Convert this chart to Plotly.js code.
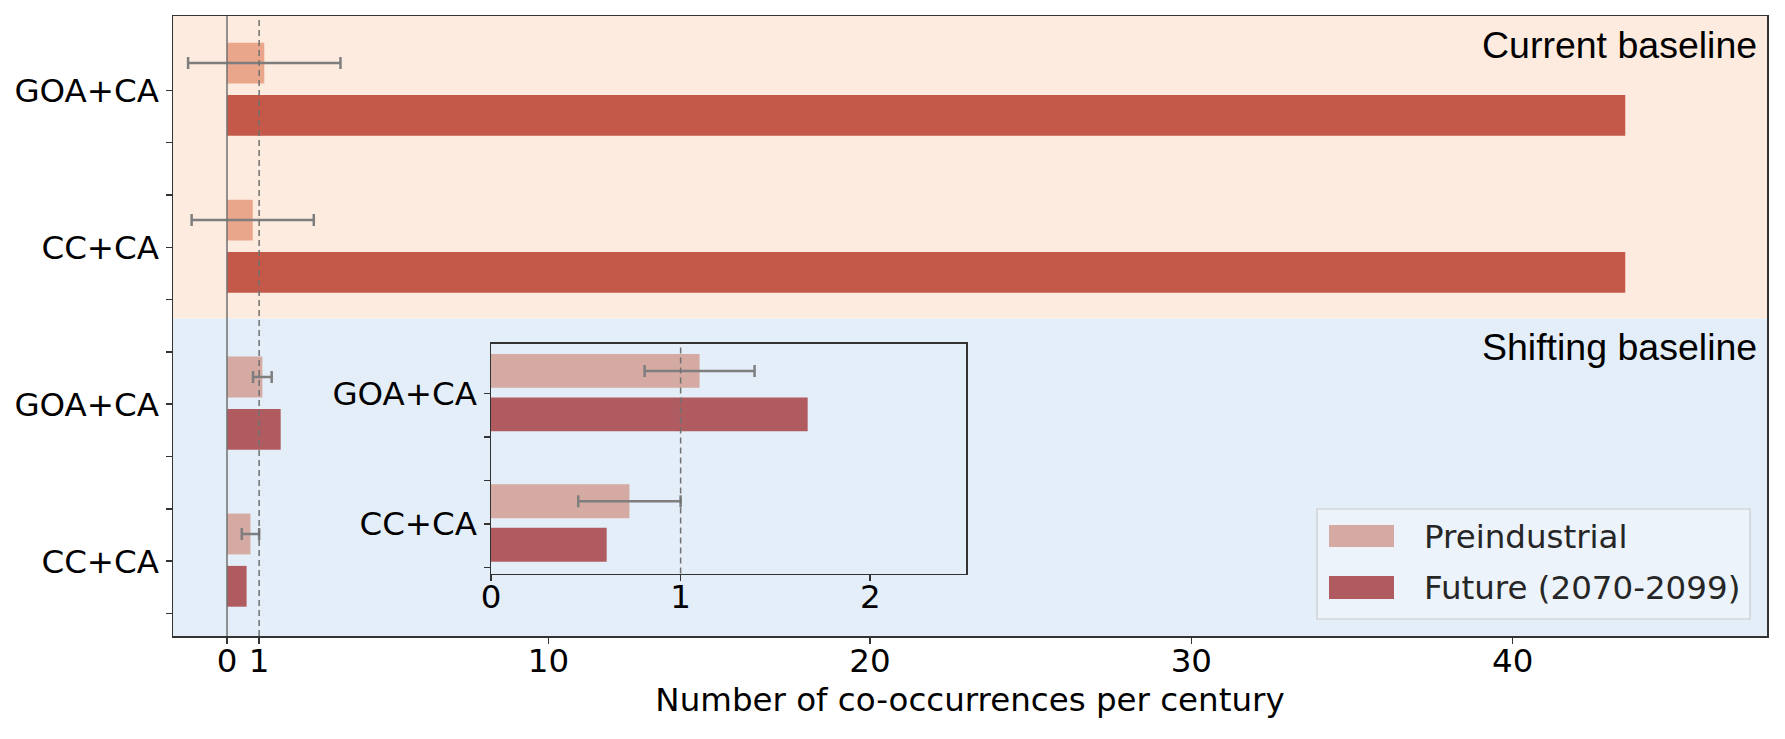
<!DOCTYPE html>
<html>
<head>
<meta charset="utf-8">
<script src="https://cdn.plot.ly/plotly-3.0.1.min.js"></script>
<style>html,body{margin:0;padding:0;background:#fff;}#chart{width:1785px;height:739px;}</style>
</head>
<body>
<div id="chart"></div>
<script>
// ---- data ----
const categories = ['GOA+CA', 'CC+CA'];
const seriesNames = ['Preindustrial', 'Future (2070-2099)'];
const panelLabels = ['Current baseline', 'Shifting baseline'];
const currentPre = [1.16, 0.80];
const currentPreErr = [2.37, 1.90];
const currentFuture = [43.5, 43.5];
const shiftingPre = [1.10, 0.73];
const shiftingPreErr = [0.29, 0.27];
const shiftingFuture = [1.67, 0.61];
const xTickVals = [0, 1, 10, 20, 30, 40];
const insetTickVals = [0, 1, 2];
const refLines = [0, 1];

// ---- styling ----
const W = 1785, H = 739;
const M = {l: 173, r: 18, t: 16, b: 103};
const PW = W - M.l - M.r, PH = H - M.t - M.b;
const px = x => (x - M.l) / PW;
const py = y => (H - M.b - y) / PH;

const C = {
  curPre: '#E9A68A', curFut: '#C4594A',
  shPre: '#D4AAA2', shFut: '#B05B60',
  peach: '#FDEBDF', blue: '#E4EEF8',
  err: '#7E7E7E', spine: '#333333'
};
const DV = 'DejaVu Sans, sans-serif';
const FS = 32.5;

// slot positions: each category has a tick; bars sit half a slot above/below
const nCat = categories.length;
const pos = (g, i) => (g === 0 ? 0 : 3 * nCat) + 3 * i;
const OFF_PRE = -0.52, OFF_FUT = 0.48, BW = 0.78;

const tickVals = [], tickText = [];
for (let k = 0; k <= 3 * nCat * 2 - 2; k++) { tickVals.push(k); tickText.push(''); }
for (let g = 0; g < 2; g++) for (let i = 0; i < nCat; i++) tickText[pos(g, i)] = categories[i];

const errStyle = (arr) => ({type: 'data', array: arr, visible: true, color: C.err, thickness: 2.5, width: 6});

const traces = [
  {type: 'bar', orientation: 'h', name: seriesNames[0], x: currentPre, y: categories.map((c, i) => pos(0, i) + OFF_PRE),
   width: BW, marker: {color: C.curPre, line: {width: 0}}, error_x: errStyle(currentPreErr), showlegend: false, xaxis: 'x', yaxis: 'y'},
  {type: 'bar', orientation: 'h', name: seriesNames[1], x: currentFuture, y: categories.map((c, i) => pos(0, i) + OFF_FUT),
   width: BW, marker: {color: C.curFut, line: {width: 0}}, showlegend: false, xaxis: 'x', yaxis: 'y'},
  {type: 'bar', orientation: 'h', name: seriesNames[0], x: shiftingPre, y: categories.map((c, i) => pos(1, i) + OFF_PRE),
   width: BW, marker: {color: C.shPre, line: {width: 0}}, error_x: errStyle(shiftingPreErr), showlegend: false, xaxis: 'x', yaxis: 'y'},
  {type: 'bar', orientation: 'h', name: seriesNames[1], x: shiftingFuture, y: categories.map((c, i) => pos(1, i) + OFF_FUT),
   width: BW, marker: {color: C.shFut, line: {width: 0}}, showlegend: false, xaxis: 'x', yaxis: 'y'},
  // inset
  {type: 'bar', orientation: 'h', name: seriesNames[0], x: shiftingPre, y: categories.map((c, i) => 3 * i + OFF_PRE),
   width: BW, marker: {color: C.shPre, line: {width: 0}}, error_x: errStyle(shiftingPreErr), showlegend: false, xaxis: 'x2', yaxis: 'y2'},
  {type: 'bar', orientation: 'h', name: seriesNames[1], x: shiftingFuture, y: categories.map((c, i) => 3 * i + OFF_FUT),
   width: BW, marker: {color: C.shFut, line: {width: 0}}, showlegend: false, xaxis: 'x2', yaxis: 'y2'}
];

const insetTickVals2 = [], insetTickText2 = [];
for (let k = 0; k <= 3 * nCat - 2; k++) { insetTickVals2.push(k); insetTickText2.push(''); }
for (let i = 0; i < nCat; i++) insetTickText2[3 * i] = categories[i];

const boundary = py(318.5);
const shapes = [
  {type: 'rect', xref: 'paper', yref: 'paper', x0: 0, x1: 1, y0: boundary, y1: 1, fillcolor: C.peach, line: {width: 0}, layer: 'below'},
  {type: 'rect', xref: 'paper', yref: 'paper', x0: 0, x1: 1, y0: 0, y1: boundary, fillcolor: C.blue, line: {width: 0}, layer: 'below'},
  {type: 'line', xref: 'x', yref: 'paper', x0: refLines[0], x1: refLines[0], y0: 0, y1: 1, line: {color: '#707070', width: 1.5}, layer: 'above'},
  {type: 'line', xref: 'x', yref: 'paper', x0: refLines[1], x1: refLines[1], y0: 0, y1: 1, line: {color: '#707070', width: 1.5, dash: '6px,4px'}, layer: 'above'},
  {type: 'line', xref: 'x2', yref: 'y2 domain', x0: refLines[1], x1: refLines[1], y0: 0, y1: 1, line: {color: '#707070', width: 1.5, dash: '6px,4px'}, layer: 'above'},
  // custom legend
  {type: 'rect', xref: 'paper', yref: 'paper', x0: px(1317), x1: px(1750), y0: py(619), y1: py(509), fillcolor: 'rgba(236,243,250,0.9)', line: {color: '#CCCCCC', width: 1.2}, layer: 'above'},
  {type: 'rect', xref: 'paper', yref: 'paper', x0: px(1329), x1: px(1394), y0: py(547), y1: py(525), fillcolor: C.shPre, line: {width: 0}, layer: 'above'},
  {type: 'rect', xref: 'paper', yref: 'paper', x0: px(1329), x1: px(1394), y0: py(599), y1: py(576), fillcolor: C.shFut, line: {width: 0}, layer: 'above'}
];

const annotations = [
  {xref: 'paper', yref: 'paper', x: px(1759), y: py(45), xanchor: 'right', yanchor: 'middle', text: panelLabels[0], showarrow: false,
   font: {family: 'Liberation Sans, Arial, sans-serif', size: 37.5, color: '#000'}},
  {xref: 'paper', yref: 'paper', x: px(1759), y: py(347), xanchor: 'right', yanchor: 'middle', text: panelLabels[1], showarrow: false,
   font: {family: 'Liberation Sans, Arial, sans-serif', size: 37.5, color: '#000'}},
  {xref: 'paper', yref: 'paper', x: px(1422), y: py(537), xanchor: 'left', yanchor: 'middle', text: seriesNames[0], showarrow: false,
   font: {family: DV, size: FS, color: '#262626'}},
  {xref: 'paper', yref: 'paper', x: px(1422), y: py(588), xanchor: 'left', yanchor: 'middle', text: seriesNames[1], showarrow: false,
   font: {family: DV, size: FS, color: '#262626'}}
];

const axCommon = {showline: true, linecolor: C.spine, linewidth: 1.5, ticks: 'outside', ticklen: 6, tickwidth: 1.5, tickcolor: C.spine,
  showgrid: false, zeroline: false, tickfont: {family: DV, size: FS, color: '#000'}, fixedrange: true};

const layout = {
  width: W, height: H, margin: M,
  paper_bgcolor: '#fff', plot_bgcolor: 'rgba(0,0,0,0)',
  font: {family: DV, size: FS, color: '#000'},
  showlegend: false,
  barmode: 'overlay',
  xaxis: Object.assign({}, axCommon, {range: [-1.68, 47.91], tickvals: xTickVals, ticktext: xTickVals.map(String), mirror: true,
    domain: [0, 1], anchor: 'y', ticklabelstandoff: -11,
    title: {text: 'Number of co-occurrences per century', font: {family: DV, size: FS, color: '#000'}, standoff: 9}}),
  yaxis: Object.assign({}, axCommon, {range: [10.43, -1.42], tickvals: tickVals, ticktext: tickText, mirror: true, domain: [0, 1], anchor: 'x'}),
  xaxis2: Object.assign({}, axCommon, {range: [0, 2.505], tickvals: insetTickVals, ticktext: insetTickVals.map(String), mirror: true,
    domain: [px(491), px(966)], anchor: 'y2', ticklabelstandoff: -12}),
  yaxis2: Object.assign({}, axCommon, {range: [4.14, -1.15], tickvals: insetTickVals2, ticktext: insetTickText2, mirror: true,
    domain: [py(573.5), py(343.5)], anchor: 'x2'}),
  shapes: shapes,
  annotations: annotations
};

Plotly.newPlot('chart', traces, layout, {displayModeBar: false, staticPlot: true});
</script>
</body>
</html>
